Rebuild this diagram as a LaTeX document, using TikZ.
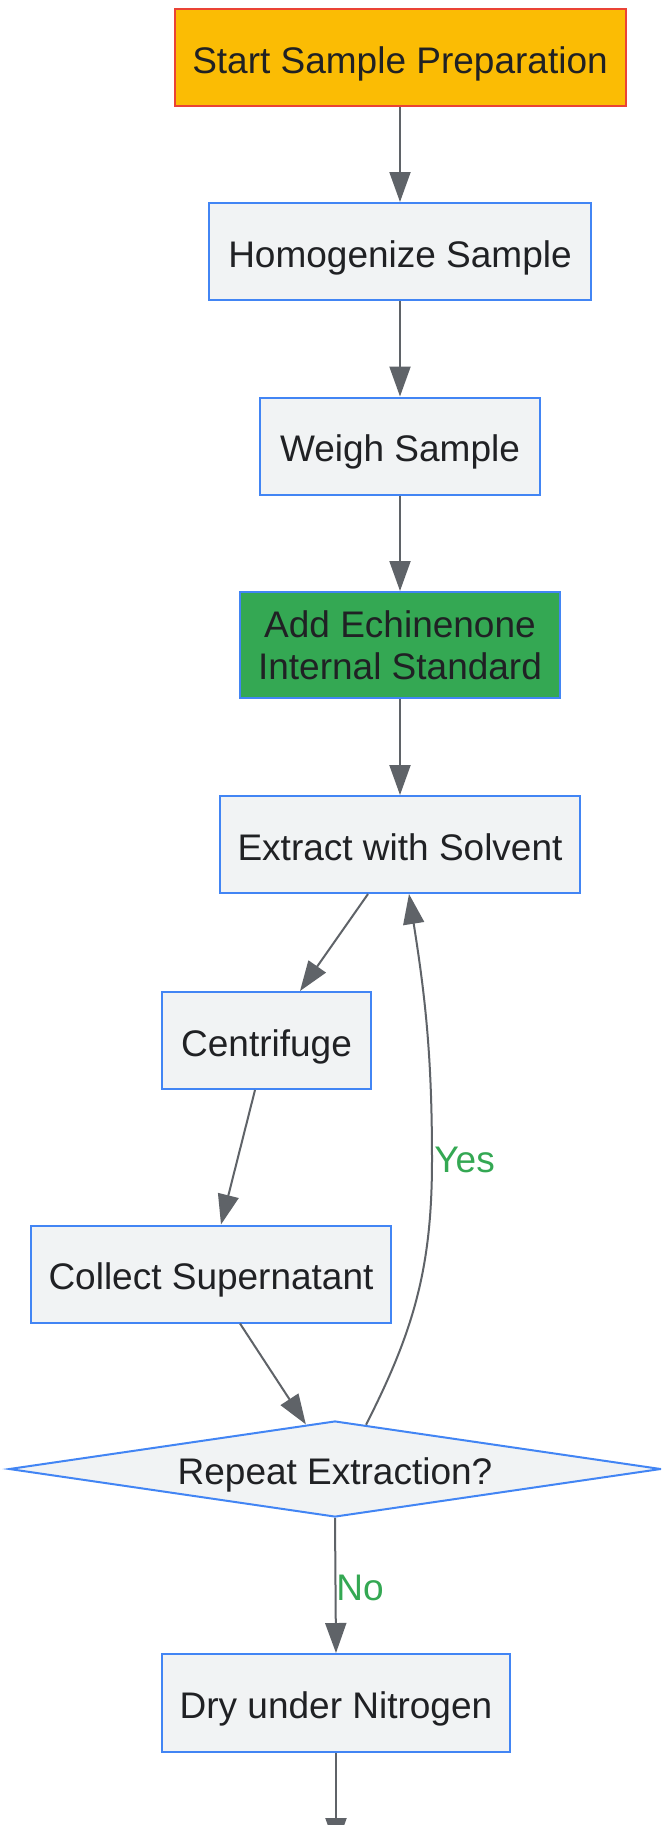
\documentclass[tikz,border=0pt]{standalone}
\usepackage{fontspec}
\setmainfont{Liberation Sans}
\usetikzlibrary{arrows.meta,shapes.geometric}
\definecolor{edgecol}{HTML}{5F6368}
\definecolor{boxfill}{HTML}{F1F3F4}
\definecolor{boxline}{HTML}{4285F4}
\definecolor{startfill}{HTML}{FBBC04}
\definecolor{startline}{HTML}{EA4335}
\definecolor{greenfill}{HTML}{34A853}
\definecolor{txt}{HTML}{202124}
\definecolor{lbl}{HTML}{34A853}
\begin{document}
\begin{tikzpicture}[x=0.5pt,y=-0.5pt,
  box/.style={draw=boxline, fill=boxfill, line width=1pt, inner sep=0pt,
    minimum height=48.5pt, text=txt, font=\fontsize{18.5}{20.85}\selectfont},
  onebox/.style={box, text height=18pt, text depth=2.3pt},
  startbox/.style={onebox, draw=startline, fill=startfill},
  greenbox/.style={box, fill=greenfill, align=center},
  decision/.style={onebox, diamond, aspect=6.8, minimum width=326pt, minimum height=48pt},
  flow/.style={draw=edgecol, line width=1pt, -{Triangle[length=15pt,width=10.5pt]}},
  elabel/.style={text=lbl, font=\fontsize{18.5}{21.5}\selectfont, inner sep=0pt}]
\fill[white] (0,0) rectangle (661,1825);
\useasboundingbox (0,0) rectangle (661,1825);
\clip (0,0) rectangle (661,1825);

\node[startbox, minimum width=225.5pt] (start) at (400,57.5) {Start Sample Preparation};
\node[onebox, minimum width=191pt] (homog) at (400,251.5) {Homogenize Sample};
\node[onebox, minimum width=140pt] (weigh) at (400,446) {Weigh Sample};
\node[greenbox, minimum width=160pt, minimum height=53pt] (add) at (400,645) {\rule[-0.5pt]{0pt}{1pt}Add Echinenone\\Internal Standard};
\node[onebox, minimum width=180pt] (ext) at (400,844.5) {Extract with Solvent};
\node[onebox, minimum width=104.5pt] (cen) at (266.5,1040.5) {Centrifuge};
\node[onebox, minimum width=180pt] (col) at (211,1274) {Collect Supernatant};
\node[decision] (dia) at (335,1469) {Repeat Extraction?};
\node[onebox, minimum width=174pt, minimum height=49pt] (dry) at (336,1703) {Dry under Nitrogen};

\coordinate (ymid) at (432,1160);
\coordinate (tail) at (336,1848);

\draw[flow] (start.south) -- (homog.north);
\draw[flow] (homog.south) -- (weigh.north);
\draw[flow] (weigh.south) -- (add.north);
\draw[flow] (add.south) -- (ext.north);
\draw[flow] ([xshift=-16pt]ext.south) -- ([xshift=16.75pt]cen.north);
\draw[flow] ([xshift=-5.75pt]cen.south) -- ([xshift=5pt]col.north);
\draw[flow] ([xshift=14.5pt]col.south) -- (dia);
\draw[flow] (dia.55) to[out=63,in=-90] (ymid) to[out=90,in=-81] ([xshift=4.5pt]ext.south);
\draw[flow] (dia.south) -- (dry.north);
\draw[flow] (dry.south) -- (tail);

\node[elabel, anchor=west] (yeslbl) at (434,1160) {Yes};
\node[elabel, anchor=west] (nolbl) at (336,1588) {No};
\end{tikzpicture}
\end{document}
